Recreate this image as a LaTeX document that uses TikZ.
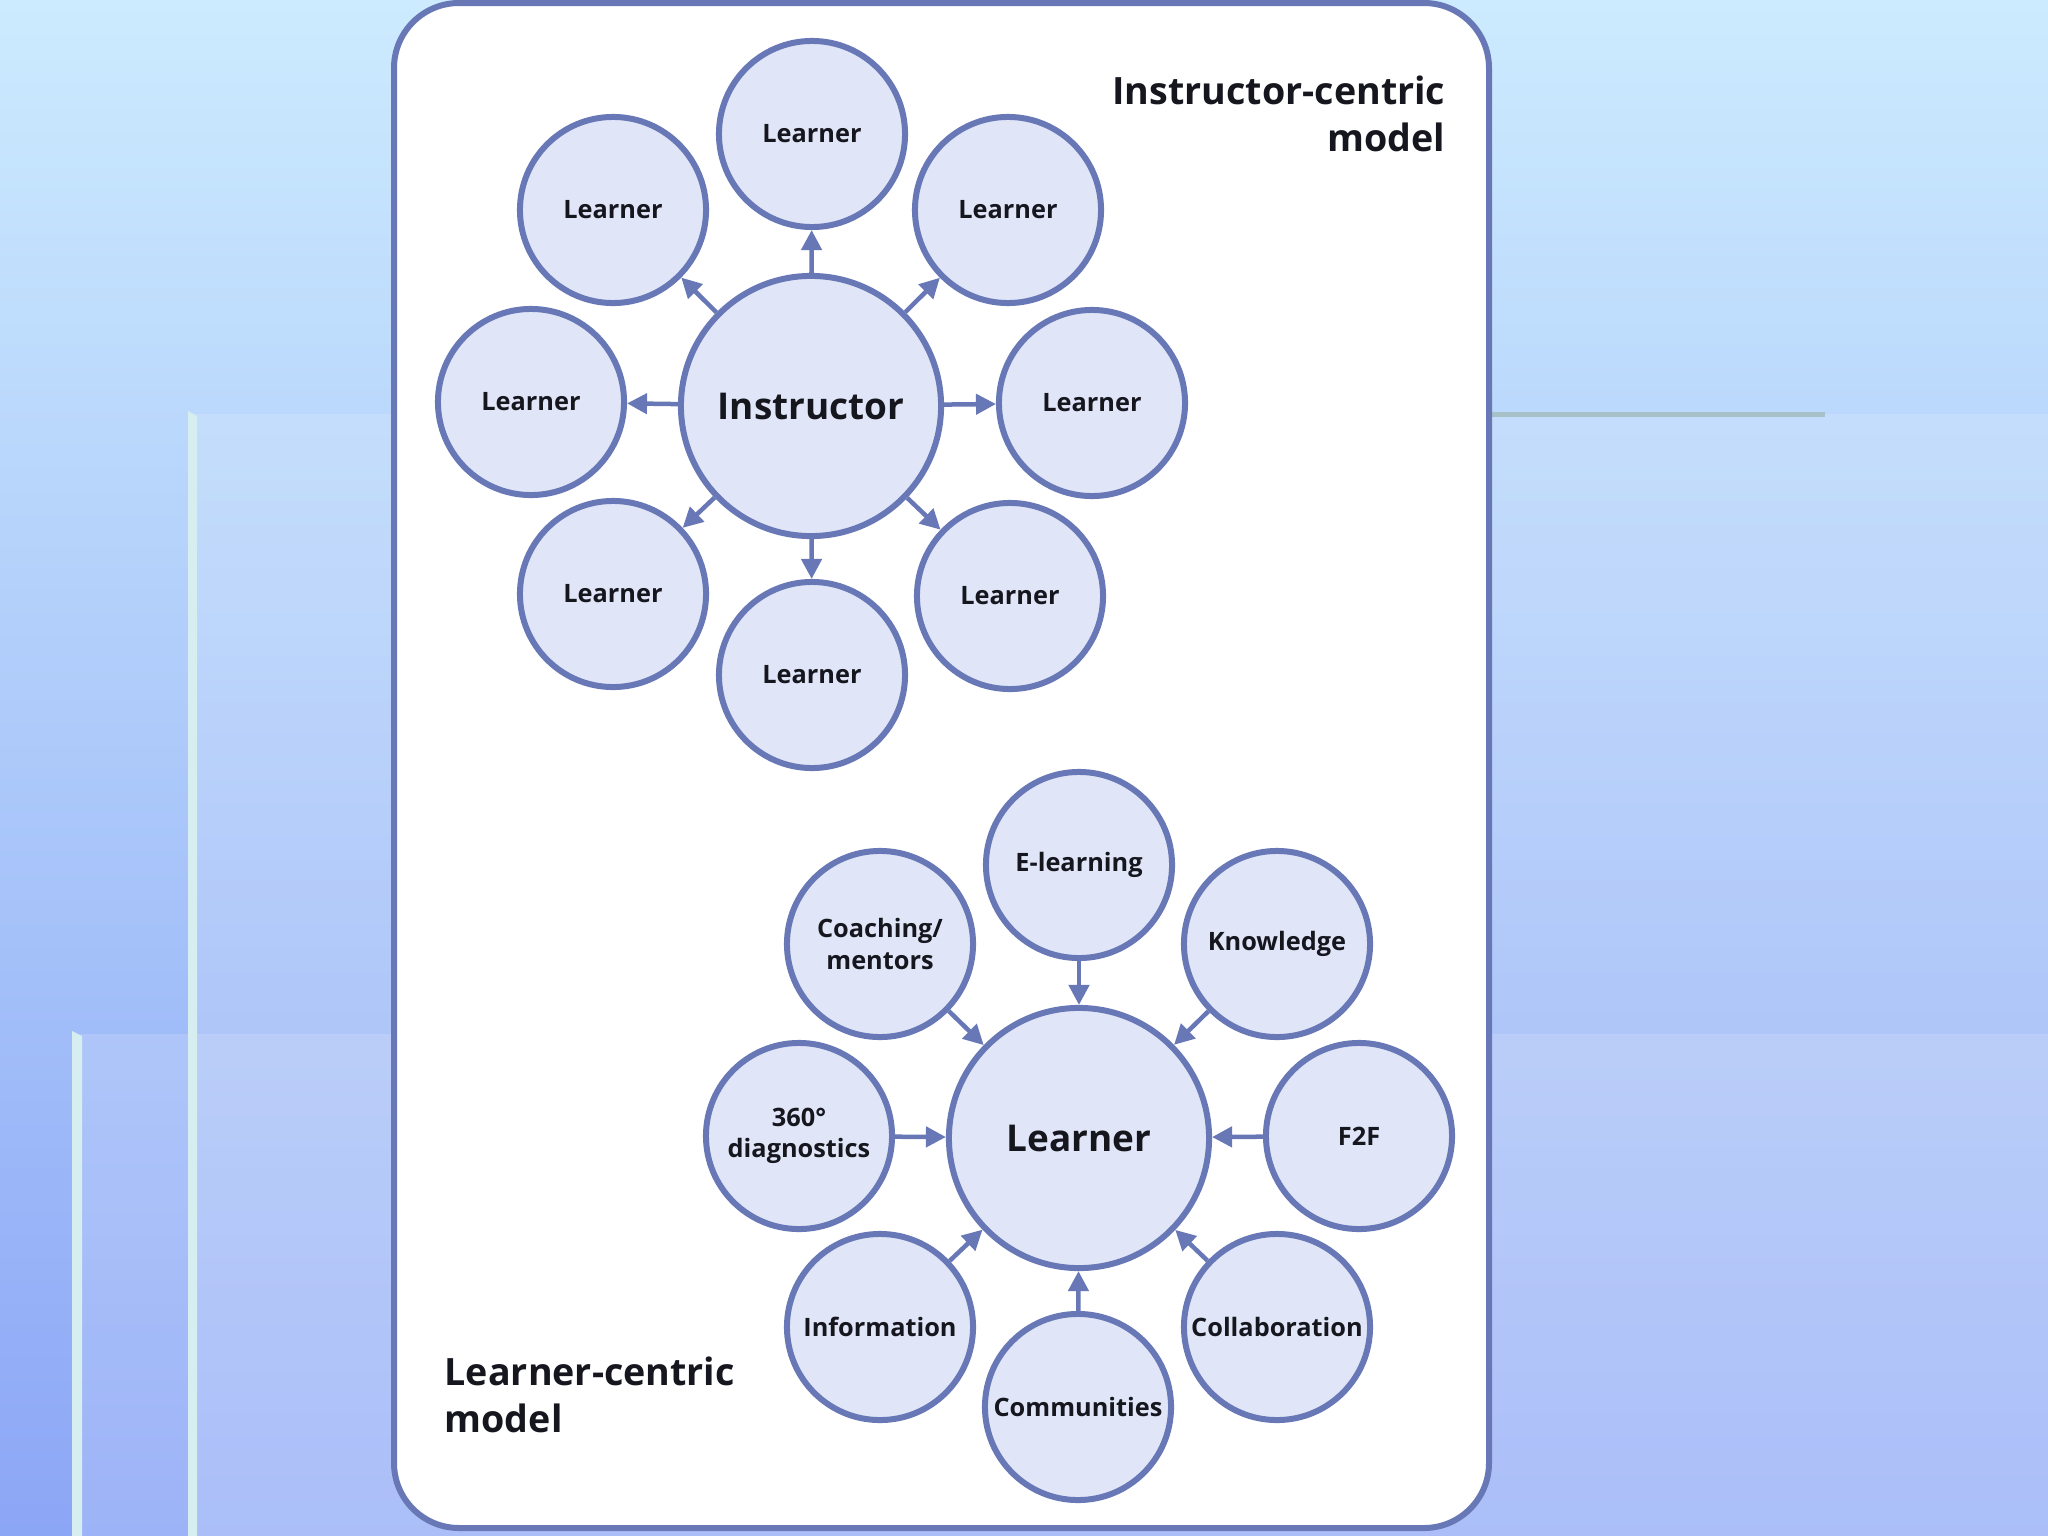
\documentclass[tikz,border=0pt]{standalone}
\usepackage{fontspec}
\setmainfont{Open Sans}
\usepackage{tikz}
\usetikzlibrary{arrows.meta}
\definecolor{ringline}{RGB}{104,120,182}
\definecolor{ringfill}{RGB}{224,230,248}
\definecolor{bgtop}{RGB}{204,235,254}
\definecolor{bgbottom}{RGB}{140,166,246}
\definecolor{stripe}{RGB}{214,238,240}
\definecolor{rulegrey}{RGB}{168,192,200}
\definecolor{inkdark}{RGB}{22,22,30}
\tikzset{
  hub/.style={circle,draw=ringline,line width=0.06cm,fill=ringfill,minimum size=2.6cm,inner sep=0pt,text=inkdark,font=\fontsize{10.5}{13}\selectfont\bfseries},
  spoke/.style={circle,draw=ringline,line width=0.06cm,fill=ringfill,minimum size=1.86cm,inner sep=0pt,align=center,text=inkdark,font=\fontsize{7.2}{8.9}\selectfont\bfseries},
  ray/.style={-{Triangle[length=0.2cm,width=0.2cm]},draw=ringline,line width=0.045cm},
  caption/.style={inner sep=0pt,text=inkdark,font=\fontsize{10.7}{13.4}\selectfont\bfseries}
}

\begin{document}
\begin{tikzpicture}[x=0.01cm,y=-0.01cm]
  % slide background
  \shade[top color=bgtop,bottom color=bgbottom] (0,0) rectangle (2048,1536);
  \fill[white,opacity=0.15] (192,414) rectangle (2048,1536);
  \fill[white,opacity=0.15] (77,1034) rectangle (2048,1536);
  \fill[stripe] (188,411) -- (197,416) -- (197,1536) -- (188,1536) -- cycle;
  \fill[stripe] (72,1031) -- (82,1036) -- (82,1536) -- (72,1536) -- cycle;
  \draw[rulegrey,line width=0.05cm] (1490,414) -- (1825,414);
  \draw[ringline,line width=0.06cm,fill=white,rounded corners=0.65cm] (394,3) rectangle (1489,1528);

  % instructor-centric model
  \node[caption,align=right,anchor=east] (topcap) at (1446,114) {Instructor-centric\\model};
  \node[hub] (instr) at (811,406) {Instructor};
  \node[spoke] (ln) at (812,134) {Learner};
  \node[spoke] (lnw) at (613,210) {Learner};
  \node[spoke] (lne) at (1008,210) {Learner};
  \node[spoke] (lw) at (531,402) {Learner};
  \node[spoke] (le) at (1092,403) {Learner};
  \node[spoke] (lsw) at (613,594) {Learner};
  \node[spoke] (lse) at (1010,596) {Learner};
  \node[spoke] (ls) at (812,675) {Learner};
  \draw[ray] (instr) -- (ln);
  \draw[ray] (instr) -- (lnw);
  \draw[ray] (instr) -- (lne);
  \draw[ray] (instr) -- (lw);
  \draw[ray] (instr) -- (le);
  \draw[ray] (instr) -- (lsw);
  \draw[ray] (instr) -- (lse);
  \draw[ray] (instr) -- (ls);

  % learner-centric model
  \node[caption,align=left,anchor=west] (botcap) at (444,1395) {Learner-centric\\model};
  \node[hub] (learner) at (1079,1138) {Learner};
  \node[spoke] (elearn) at (1079,865) {E-learning};
  \node[spoke] (coach) at (880,944) {Coaching/\\mentors};
  \node[spoke] (know) at (1277,944) {Knowledge};
  \node[spoke] (diag) at (799,1136) {360°\\diagnostics};
  \node[spoke] (ftf) at (1359,1136) {F2F};
  \node[spoke] (info) at (880,1327) {Information};
  \node[spoke] (collab) at (1277,1327) {Collaboration};
  \node[spoke] (comm) at (1078,1407) {Communities};
  \draw[ray] (elearn) -- (learner);
  \draw[ray] (coach) -- (learner);
  \draw[ray] (know) -- (learner);
  \draw[ray] (diag) -- (learner);
  \draw[ray] (ftf) -- (learner);
  \draw[ray] (info) -- (learner);
  \draw[ray] (collab) -- (learner);
  \draw[ray] (comm) -- (learner);
\end{tikzpicture}
\end{document}
